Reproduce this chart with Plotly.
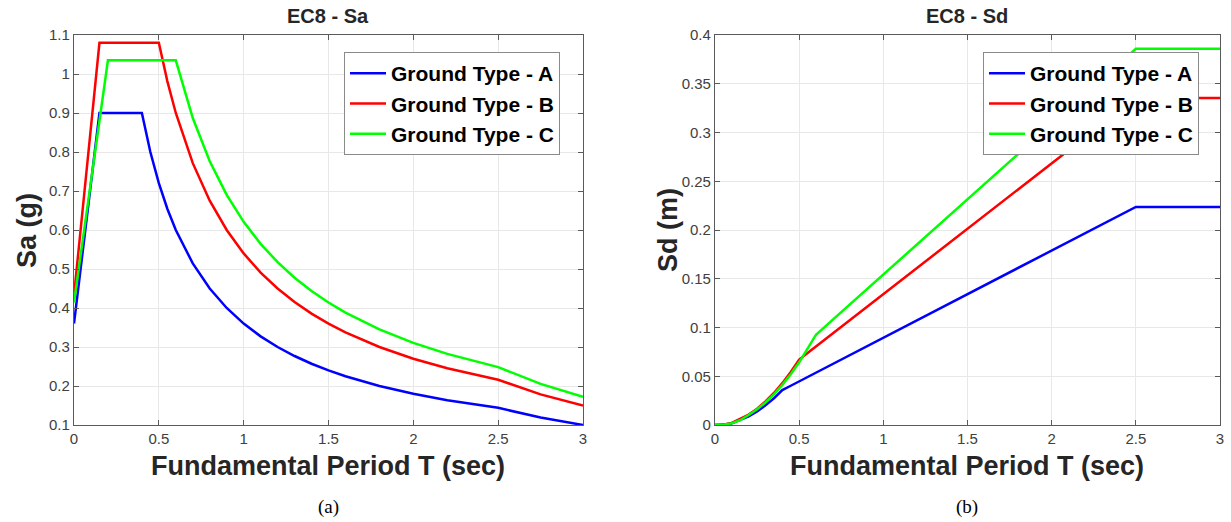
import plotly.graph_objects as go

# Period grid (sec)
T = [0, 0.05, 0.1, 0.15, 0.2, 0.25, 0.3, 0.35, 0.4, 0.45, 0.5, 0.55, 0.6, 0.7, 0.8,
     0.9, 1.0, 1.1, 1.2, 1.3, 1.4, 1.5, 1.6, 1.8, 2.0, 2.2, 2.5, 2.75, 3.0]

# Spectral acceleration Sa (g)
sa_A = [0.36, 0.54, 0.72, 0.9, 0.9, 0.9, 0.9, 0.9, 0.9, 0.8, 0.72, 0.6545, 0.6, 0.5143, 0.45,
        0.4, 0.36, 0.3273, 0.3, 0.2769, 0.2571, 0.24, 0.225, 0.2, 0.18, 0.1636, 0.144, 0.119, 0.1]
sa_B = [0.432, 0.648, 0.864, 1.08, 1.08, 1.08, 1.08, 1.08, 1.08, 1.08, 1.08, 0.9818, 0.9, 0.7714, 0.675,
        0.6, 0.54, 0.4909, 0.45, 0.4154, 0.3857, 0.36, 0.3375, 0.3, 0.27, 0.2455, 0.216, 0.1785, 0.15]
sa_C = [0.414, 0.569, 0.7245, 0.88, 1.035, 1.035, 1.035, 1.035, 1.035, 1.035, 1.035, 1.035, 1.035, 0.8871, 0.7763,
        0.69, 0.621, 0.5645, 0.5175, 0.4777, 0.4436, 0.414, 0.3881, 0.345, 0.3105, 0.2823, 0.2484, 0.2053, 0.1725]

# Spectral displacement Sd (m)
sd_A = [0, 0.000335, 0.00179, 0.00503, 0.00895, 0.01398, 0.02013, 0.0274, 0.03578, 0.04026, 0.04473, 0.0492, 0.05368,
        0.06262, 0.07157, 0.08051, 0.08946, 0.0984, 0.10735, 0.1163, 0.12524, 0.13419, 0.14314, 0.16103,
        0.17892, 0.19681, 0.22365, 0.22365, 0.22365]
sd_B = [0, 0.000403, 0.002147, 0.00604, 0.01074, 0.01677, 0.02415, 0.03288, 0.04294, 0.05435, 0.0671, 0.0738, 0.08051,
        0.09393, 0.10735, 0.12077, 0.13419, 0.14761, 0.16103, 0.17445, 0.18787, 0.20129, 0.2147, 0.24154,
        0.26838, 0.29522, 0.33548, 0.33548, 0.33548]
sd_C = [0, 0.000354, 0.0018, 0.00492, 0.01029, 0.01607, 0.02315, 0.03151, 0.04115, 0.05208, 0.0643, 0.0778, 0.09259,
        0.10802, 0.12345, 0.13889, 0.15432, 0.16975, 0.18518, 0.20062, 0.21605, 0.23148, 0.24691, 0.27778,
        0.30864, 0.3395, 0.3858, 0.3858, 0.3858]

names = ["Ground Type - A", "Ground Type - B", "Ground Type - C"]
colors = ["#0000FF", "#FF0000", "#00FF00"]

sa_ticks = [0.1, 0.2, 0.3, 0.4, 0.5, 0.6, 0.7, 0.8, 0.9, 1.0, 1.1]
sa_labels = ["0.1", "0.2", "0.3", "0.4", "0.5", "0.6", "0.7", "0.8", "0.9", "1", "1.1"]
sd_ticks = [0, 0.05, 0.1, 0.15, 0.2, 0.25, 0.3, 0.35, 0.4]
sd_labels = ["0", "0.05", "0.1", "0.15", "0.2", "0.25", "0.3", "0.35", "0.4"]
x_ticks = [0, 0.5, 1, 1.5, 2, 2.5, 3]
x_labels = ["0", "0.5", "1", "1.5", "2", "2.5", "3"]

W, H = 1231, 522
fig = go.Figure()

for n, c, ya in zip(names, colors, [sa_A, sa_B, sa_C]):
    fig.add_trace(go.Scatter(x=T, y=ya, mode="lines", name=n, line=dict(color=c, width=2.5),
                             xaxis="x", yaxis="y", legend="legend"))
for n, c, yd in zip(names, colors, [sd_A, sd_B, sd_C]):
    fig.add_trace(go.Scatter(x=T, y=yd, mode="lines", name=n, line=dict(color=c, width=2.5),
                             xaxis="x2", yaxis="y2", legend="legend2"))

tickfont = dict(family="Liberation Sans, Arial", size=15, color="#404040")
axis_common = dict(showline=True, mirror="ticks", linecolor="#5a5a5a", linewidth=1.3,
                   ticks="inside", ticklen=5, tickcolor="#5a5a5a", showgrid=True,
                   gridcolor="#e8e8e8", gridwidth=1, zeroline=False, tickfont=tickfont,
                   automargin=False)

def px_x(p):
    return p / W

def px_y(p):
    return 1 - p / H

legend_font = dict(family="Liberation Sans, Arial", size=21, color="black", weight="bold")

fig.update_layout(
    width=W, height=H,
    autosize=False,
    margin=dict(l=0, r=0, t=0, b=0, pad=0, autoexpand=False),
    paper_bgcolor="white", plot_bgcolor="white",
    xaxis=dict(domain=[px_x(74), px_x(583)], range=[0, 3], tickvals=x_ticks, ticktext=x_labels,
               anchor="y", **axis_common),
    yaxis=dict(domain=[px_y(425), px_y(35)], range=[0.1, 1.1], tickvals=sa_ticks, ticktext=sa_labels,
               anchor="x", **axis_common),
    xaxis2=dict(domain=[px_x(715), px_x(1220)], range=[0, 3], tickvals=x_ticks, ticktext=x_labels,
                anchor="y2", **axis_common),
    yaxis2=dict(domain=[px_y(425), px_y(35)], range=[0, 0.4], tickvals=sd_ticks, ticktext=sd_labels,
                anchor="x2", **axis_common),
    legend=dict(x=px_x(344), y=px_y(52), xanchor="left", yanchor="top",
                bgcolor="white", bordercolor="#8a8a8a", borderwidth=1,
                font=legend_font, itemwidth=36, tracegroupgap=0),
    legend2=dict(x=px_x(983), y=px_y(52), xanchor="left", yanchor="top",
                 bgcolor="white", bordercolor="#8a8a8a", borderwidth=1,
                 font=legend_font, itemwidth=36, tracegroupgap=0),
    showlegend=True,
)

bold_font = dict(family="Liberation Sans, Arial", color="#262626")
annots = [
    dict(text="<b>EC8 - Sa</b>", x=px_x(328), y=px_y(16), size=20),
    dict(text="<b>EC8 - Sd</b>", x=px_x(967), y=px_y(16), size=20),
    dict(text="<b>Fundamental Period T (sec)</b>", x=px_x(328), y=px_y(466), size=27),
    dict(text="<b>Fundamental Period T (sec)</b>", x=px_x(967), y=px_y(466), size=27),
]
for a in annots:
    fig.add_annotation(text=a["text"], x=a["x"], y=a["y"], xref="paper", yref="paper",
                       xanchor="center", yanchor="middle", showarrow=False,
                       font=dict(size=a["size"], **bold_font))
for txt, xp in [("<b>Sa (g)</b>", 27), ("<b>Sd (m)</b>", 668)]:
    fig.add_annotation(text=txt, x=px_x(xp), y=px_y(230), xref="paper", yref="paper",
                       xanchor="center", yanchor="middle", showarrow=False, textangle=-90,
                       font=dict(size=27, **bold_font))
for txt, xp in [("(a)", 328), ("(b)", 967)]:
    fig.add_annotation(text=txt, x=px_x(xp), y=px_y(507), xref="paper", yref="paper",
                       xanchor="center", yanchor="middle", showarrow=False,
                       font=dict(size=19, family="Liberation Serif, Times New Roman", color="black"))

fig.write_html("out.html")
